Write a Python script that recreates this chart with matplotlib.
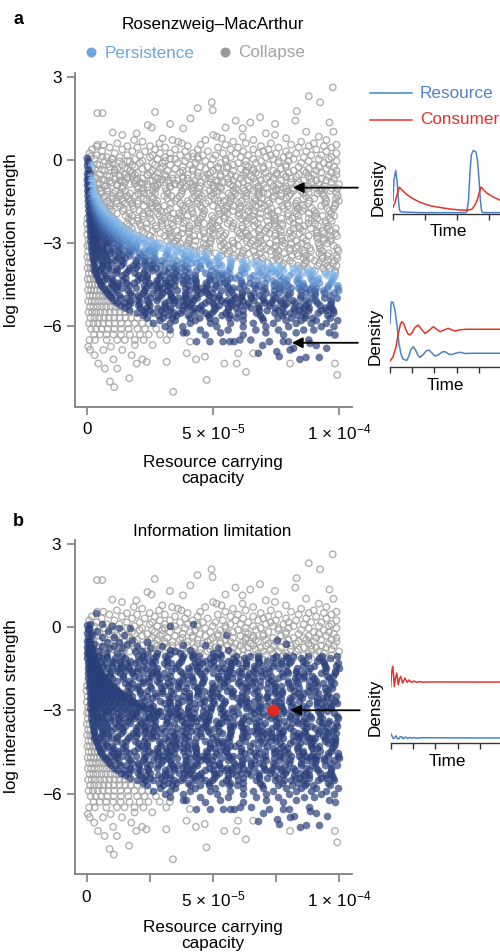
import numpy as np
import matplotlib
matplotlib.use('Agg')
import matplotlib.pyplot as plt
from matplotlib.colors import LinearSegmentedColormap
from matplotlib.lines import Line2D

plt.rcParams['font.family'] = ['Liberation Sans', 'DejaVu Sans']
plt.rcParams['mathtext.fontset'] = 'custom'
plt.rcParams['mathtext.rm'] = 'Liberation Sans'
plt.rcParams['mathtext.it'] = 'Liberation Sans:italic'
plt.rcParams['font.size'] = 12.3

# ---- scatter data: (log interaction strength, [carrying capacity in 1e-6 units]) ----
# collapse in both models
top_rows = [
    (2.62, [97.5]), (2.3, [88]), (2.08, [49.5, 92.5]), (1.87, [43.9]), (1.8, [49.9]),
    (1.76, [83.2]), (1.73, [27]), (1.69, [4.1, 6.2]), (1.54, [68.7]), (1.5, [41.1]),
    (1.42, [82.7, 59]), (1.35, [64.8, 96.2]), (1.3, [74.6, 33]), (1.26, [24.1]),
    (1.17, [25.7, 55]), (1.14, [38.2, 61.8]), (1.02, [97.8, 87]), (0.99, [10.2]),
    (0.96, [19.7, 71]), (0.9, [50.1, 74.6, 14]), (0.84, [51.5, 61.8, 92]),
    (0.78, [53.5, 30, 79]), (0.72, [18.7, 33.9, 47, 66, 95]), (0.66, [36.2, 22, 58, 85]),
    (0.6, [28.7, 37.6, 12, 63, 73, 90]), (0.55, [4.2, 6.6, 45, 55, 81, 99]),
    (0.5, [16, 25, 40, 69, 88, 94]), (0.45, [9, 20, 31, 52, 60, 76, 84, 97]),
    (0.38, [2, 14, 27, 35, 44, 57, 66, 72, 91]),
    (0.31, [6, 18, 23, 39, 48, 62, 70, 79, 87, 95]),
    (0.24, [1, 11, 29, 33, 42, 54, 59, 68, 75, 83, 99]),
    (0.17, [4, 16, 21, 26, 37, 46, 51, 64, 73, 80, 89, 93]),
    (0.1, [8, 13, 25, 31, 40, 44, 57, 61, 71, 78, 86, 97]),
    (0.03, [3, 10, 19, 28, 35, 44, 50, 55, 66, 74, 82, 92, 96]),
    (-0.04, [7, 16, 22, 31, 39, 47, 55, 63, 69, 76, 80, 88, 99]),
    (-0.11, [1, 10, 21, 26, 30, 36, 43, 53, 60, 67, 76, 85, 94]),
    (-0.18, [5, 14, 18, 27, 33, 41, 49, 58, 63, 72, 79, 90, 96]),
    (-0.25, [9, 19, 24, 30, 38, 45, 52, 56, 64, 70, 79, 84, 92, 98]),
    (-0.32, [3, 12, 16, 22, 29, 35, 42, 47, 52, 61, 66, 70, 77, 88, 95]),
    (-0.39, [7, 11, 17, 26, 32, 38, 42, 50, 58, 63, 66, 74, 82, 86, 91, 99]),
    (-0.46, [2, 11, 20, 25, 28, 37, 44, 49, 55, 63, 67, 71, 80, 87, 93, 97]),
    (-0.53, [5, 15, 19, 24, 31, 34, 40, 48, 53, 57, 62, 68, 75, 78, 84, 90, 99]),
    (-0.6, [9, 13, 18, 27, 31, 38, 44, 46, 53, 59, 65, 72, 79, 83, 88, 96]),
    (-0.67, [4, 16, 22, 28, 34, 40, 49, 56, 61, 66, 71, 74, 81, 89, 93, 98]),
    (-0.74, [7, 13, 19, 26, 32, 36, 43, 51, 58, 64, 69, 77, 86, 91, 95]),
    (-0.81, [10, 15, 21, 29, 38, 45, 49, 54, 62, 67, 73, 81, 84, 89, 97]),
    (-0.88, [4, 12, 17, 24, 28, 35, 42, 48, 57, 60, 70, 76, 83, 92, 100]),
    (-0.95, [7, 14, 20, 27, 33, 39, 45, 52, 58, 64, 68, 74, 79, 88, 94]),
    (-1.02, [62, 71, 78, 86, 91, 97]), (-1.1, [66, 75, 82, 93]), (-1.18, [70, 88, 99]),
]

# collapse in Rosenzweig-MacArthur, persistence with information limitation
switch_rows = [
    (0.49, [3.8]), (0.12, [1.5, 6, 42]), (0.05, [10, 33]), (-0.05, [0.8, 13, 17]),
    (-0.15, [4, 8.5]), (-0.29, [2, 15, 55.4]), (-0.35, [6, 11]), (-0.47, [1, 18, 75.3]),
    (-0.55, [8, 13, 24]), (-0.62, [3, 16, 79]), (-0.66, [38, 47]), (-0.7, [6, 11, 20, 30]),
    (-0.76, [2.5, 9, 14, 25, 52]), (-0.82, [33, 41, 56]), (-0.86, [5, 19, 22, 35]),
    (-0.92, [7.5, 12, 28, 37, 50]), (-0.98, [3, 24, 33, 42, 53]),
    (-1.03, [2.6, 4.8, 8.1, 14.1, 20.2, 22.4, 27.3, 31.2, 38.3, 41.6, 44.4, 50.4, 53.2,
             59.2, 64.7, 68.0, 75.2, 79.0, 81.8, 87.8, 93.3, 99.4]),
    (-1.12, [3.1, 5.6, 8.0, 11.3, 15.2, 21.8, 26.2, 31.7, 37.7, 42.1, 48.7, 51.5, 58.1,
             62.5, 68.0, 74.0, 79.5, 85.0, 92.2, 96.6]),
    (-1.21, [3.4, 5.6, 10.5, 13.3, 17.1, 20.4, 22.6, 24.8, 27.0, 32.0, 37.5, 44.1, 46.8,
             50.1, 56.2, 58.9, 63.3, 68.3, 71.6, 77.1, 80.9, 85.9, 91.4, 93.6]),
    (-1.3, [3.8, 7.1, 10.0, 13.1, 16.0, 19.2, 25.8, 30.7, 33.5, 36.8, 42.8, 45.6, 49.4,
            53.8, 57.1, 60.0, 63.2, 68.1, 74.2, 77.0, 80.2, 86.8, 94.0, 99.5]),
    (-1.39, [4.4, 6.6, 10.2, 13.7, 16.5, 22.5, 26.4, 31.9, 35.7, 41.8, 44.5, 50.6, 57.2,
             63.2, 66.5, 69.3, 73.7, 79.2, 85.8, 90.2, 94.6, 98.8]),
    (-1.48, [4.8, 8.0, 11.9, 14.1, 16.9, 20.2, 23.5, 27.9, 35.0, 40.0, 43.8, 48.2, 52.1,
             54.3, 57.0, 61.4, 66.9, 71.9, 76.3, 83.4, 88.4, 95.0, 99.9]),
    (-1.57, [5.3, 9.1, 12.0, 15.2, 17.9, 20.1, 25.1, 27.3, 33.3, 37.0, 40.5, 43.8, 47.1,
             53.1, 56.5, 60.3, 65.8, 69.0, 72.4, 79.5, 82.8, 87.8, 94.4, 98.6]),
    (-1.66, [6.0, 9.3, 13.1, 18.1, 22.5, 25.8, 28.0, 30.7, 37.9, 45.0, 50.0, 55.5, 58.2,
             61.0, 64.3, 67.0, 70.3, 77.5, 79.7, 83.0, 85.7, 92.9, 98.4]),
    (-1.75, [6.7, 9.1, 14.6, 18.6, 25.4, 28.3, 32.9, 38.8, 41.4, 45.7, 52.2, 55.6, 60.6,
             63.4, 69.4, 73.1, 78.0, 83.6, 86.1, 89.2, 95.4, 97.8]),
    (-1.84, [7.4, 10.0, 14.3, 20.8, 24.2, 29.2, 32.0, 38.0, 41.7, 46.6, 52.2, 54.7, 57.8,
             64.0, 66.4, 71.9, 75.9, 82.7, 85.6, 90.2, 96.1]),
    (-1.93, [8.2, 11.9, 16.8, 22.4, 24.9, 28.0, 34.2, 36.6, 42.1, 46.1, 52.9, 55.8, 60.4,
             66.3, 68.9, 73.2, 79.7, 83.1, 88.1, 90.9, 96.9]),
    (-2.02, [9.4, 15.3, 17.9, 22.2, 28.7, 32.1, 37.1, 39.9, 45.9, 49.6, 54.5, 60.1, 62.6,
             65.7, 71.9, 74.3, 79.8, 83.8, 90.6, 93.5, 98.1]),
    (-2.11, [10.5, 16.5, 20.2, 25.1, 30.7, 33.2, 36.3, 42.5, 44.9, 50.4, 54.4, 61.2, 64.1,
             68.7, 74.6, 77.2, 81.5, 88.0, 91.4, 96.4]),
    (-2.2, [11.5, 17.7, 20.1, 25.6, 29.6, 36.4, 39.3, 43.9, 49.8, 52.4, 56.7, 63.2, 66.6,
            71.6, 74.4, 80.4, 84.1, 89.0, 94.6, 97.1]),
    (-2.29, [12.6, 16.0, 21.0, 23.8, 29.8, 33.5, 38.4, 44.0, 46.5, 49.6, 55.8, 58.2, 63.7,
             67.7, 74.5, 77.4, 82.0, 87.9, 90.5, 94.8]),
    (-2.38, [13.8, 16.7, 21.3, 27.2, 29.8, 34.1, 40.6, 44.0, 49.0, 51.8, 57.8, 61.5, 66.4,
             72.0, 74.5, 77.6, 83.8, 86.2, 91.7, 95.7]),
    (-2.47, [15.0, 17.8, 23.8, 27.5, 32.4, 38.0, 40.5, 43.6, 49.8, 52.2, 57.7, 61.7, 68.5,
             71.4, 76.0, 81.9, 84.5, 88.8, 95.3, 98.7]),
    (-2.56, [16.6, 22.1, 26.1, 32.9, 35.8, 40.4, 46.3, 48.9, 53.2, 59.7, 63.1, 68.1, 70.9,
             76.9, 80.6, 85.5, 91.1, 93.6, 96.7]),
    (-2.65, [18.4, 22.7, 29.2, 32.6, 37.6, 40.4, 46.4, 50.1, 55.0, 60.6, 63.1, 66.2, 72.4,
             74.8, 80.3, 84.3, 91.1, 94.0, 98.6]),
    (-2.74, [20.2, 25.1, 30.7, 33.2, 36.3, 42.5, 44.9, 50.4, 54.4, 61.2, 64.1, 68.7, 74.6,
             77.2, 81.5, 88.0, 91.4, 96.4, 99.2]),
    (-2.83, [22.4, 26.4, 33.2, 36.1, 40.7, 46.6, 49.2, 53.5, 60.0, 63.4, 68.4, 71.2, 77.2,
             80.9, 85.8, 91.4, 93.9, 97.0]),
    (-2.92, [25.4, 31.9, 35.3, 40.3, 43.1, 49.1, 52.8, 57.7, 63.3, 65.8, 68.9, 75.1, 77.5,
             83.0, 87.0, 93.8, 96.7]),
    (-3.01, [28.9, 34.5, 37.0, 40.1, 46.3, 48.7, 54.2, 58.2, 65.0, 67.9, 72.5, 78.4, 81.0,
             85.3, 91.8, 95.2]),
    (-3.1, [32.9, 36.0, 39.7, 42.6, 47.2, 53.1, 55.7, 60.0, 66.5, 69.9, 74.9, 77.7, 83.7,
            87.4, 92.3, 97.9]),
    (-3.19, [37.4, 40.8, 45.8, 48.6, 54.6, 58.3, 63.2, 68.8, 71.3, 74.4, 80.6, 83.0, 88.5,
             92.5, 99.3]),
    (-3.28, [42.4, 44.9, 48.0, 54.2, 56.6, 62.1, 66.1, 72.9, 75.8, 80.4, 86.3, 88.9, 93.2,
             99.7]),
    (-3.37, [48.2, 51.1, 55.7, 61.6, 64.2, 68.5, 75.0, 78.4, 83.4, 86.2, 92.2, 95.9]),
    (-3.46, [53.3, 58.3, 61.1, 67.1, 70.8, 75.7, 81.3, 83.8, 86.9, 93.1, 95.5, 99.0]),
    (-3.55, [57.9, 61.0, 67.2, 69.6, 75.1, 79.1, 85.9, 88.8, 93.4, 99.3]),
    (-3.64, [63.1, 67.7, 73.6, 76.2, 80.5, 87.0, 90.4, 95.4, 98.2]),
    (-3.73, [69.1, 71.9, 77.9, 81.6, 86.5, 92.1, 94.6, 97.7]),
    (-3.82, [77.4, 83.6, 86.0, 91.5, 95.5, 99.0]),
    (-3.91, [84.4, 87.5, 93.7, 96.1]),
    (-4.0, [90.4, 94.4, 98.5]),
    (-4.08, [98.4]),
]

# persistence in both models
persist_rows = [
    (0.06, [0.1]), (-0.06, [0.4]), (-0.2, [0.2, 1.9]), (-0.35, [0.5]), (-0.5, [0.2, 1.2]),
    (-0.62, [0.5, 1.5]), (-0.72, [0.1, 1.0, 1.8]), (-0.82, [0.6, 1.6, 2.1]),
    (-0.92, [0.2, 1.1, 2.2]), (-1.02, [0.7, 1.6, 2.2]), (-1.12, [0.3, 1.3, 2.4]),
    (-1.21, [0.9, 2.0, 2.8]), (-1.3, [0.4, 1.5, 2.4, 3.2]), (-1.39, [1.0, 2.2, 3.0, 3.8]),
    (-1.48, [0.5, 1.6, 2.8, 4.2]), (-1.57, [1.1, 2.3, 3.5, 4.7]),
    (-1.66, [0.6, 1.8, 3.0, 4.2, 5.5]), (-1.75, [1.2, 2.5, 3.8, 5.0, 6.1]),
    (-1.84, [0.7, 1.9, 3.2, 4.5, 5.8, 6.8]), (-1.93, [1.3, 2.6, 4.0, 5.3, 6.6, 7.7]),
    (-2.02, [0.9, 2.0, 3.4, 4.8, 6.2, 7.5, 8.8]),
    (-2.11, [1.5, 2.8, 4.3, 5.7, 7.1, 8.6, 9.9]),
    (-2.2, [1.0, 2.3, 3.7, 5.2, 6.7, 8.2, 9.7, 10.9]),
    (-2.29, [1.6, 3.0, 4.6, 6.1, 7.7, 9.3, 10.6, 12.0]),
    (-2.38, [1.2, 2.5, 4.0, 5.6, 7.2, 8.9, 10.5, 12.0, 13.2]),
    (-2.47, [1.7, 3.2, 4.8, 6.5, 8.3, 10.1, 12.0, 13.5, 14.4]),
    (-2.56, [1.3, 2.7, 4.2, 6.0, 7.8, 9.7, 11.6, 13.6, 15.9]),
    (-2.65, [1.8, 3.4, 5.2, 7.1, 9.1, 11.2, 13.4, 15.6, 17.8]),
    (-2.74, [1.4, 2.9, 4.6, 6.5, 8.6, 10.8, 13.1, 15.5, 17.6, 19.7]),
    (-2.83, [2.0, 3.6, 5.5, 7.6, 9.9, 12.3, 14.8, 17.5, 20.0, 21.9]),
    (-2.92, [1.5, 3.1, 4.9, 7.0, 9.3, 11.8, 14.5, 17.3, 20.3, 23.0, 24.8]),
    (-3.01, [2.2, 4.0, 7.3, 8.5, 10.6, 13.6, 16.3, 19.6, 22.3, 26.2, 28.3]),
    (-3.1, [1.8, 3.9, 6.3, 8.1, 12.6, 15.8, 18.2, 19.6, 24.2, 26.3, 28.0, 32.2]),
    (-3.19, [2.4, 4.3, 6.2, 10.5, 13.2, 17.9, 19.8, 24.9, 27.6, 29.9, 33.8, 36.6]),
    (-3.28, [1.9, 4.0, 6.6, 9.4, 12.3, 15.2, 17.3, 18.9, 22.7, 24.8, 26.8, 32.0, 35.9,
             39.3, 41.4]),
    (-3.37, [2.6, 4.4, 7.0, 9.3, 12.9, 16.5, 21.0, 23.7, 26.9, 31.8, 37.7, 43.5, 47.3]),
    (-3.46, [2.2, 4.5, 7.3, 11.1, 14.0, 17.2, 21.4, 26.1, 31.3, 34.6, 38.9, 41.3, 46.9,
             52.5]),
    (-3.55, [2.9, 5.2, 8.0, 12.3, 15.2, 20.3, 23.2, 27.0, 32.6, 38.7, 41.1, 44.0, 46.9,
             52.1, 56.8]),
    (-3.64, [2.5, 5.8, 8.6, 11.4, 13.9, 19.5, 22.8, 24.8, 27.3, 29.7, 35.8, 39.6, 45.6,
             48.1, 51.0, 57.0, 62.1]),
    (-3.73, [3.1, 6.4, 9.8, 14.5, 19.6, 23.0, 26.3, 31.0, 33.9, 37.7, 41.5, 43.5, 48.2,
             52.5, 57.2, 61.9, 65.7, 68.0]),
    (-3.82, [2.8, 6.1, 8.1, 13.7, 18.4, 20.4, 23.3, 25.8, 29.1, 35.2, 39.0, 45.0, 48.8,
             53.5, 56.9, 62.9, 67.2, 70.1, 73.0, 76.4]),
    (-3.91, [3.4, 5.9, 8.5, 11.9, 17.0, 19.5, 25.5, 27.5, 32.7, 34.7, 37.6, 40.0, 45.2,
             51.2, 56.8, 61.5, 63.5, 69.6, 73.4, 76.7, 81.9, 83.5]),
    (-4.0, [3.0, 5.5, 9.5, 12, 16.5, 23, 26, 31, 35.5, 39, 43.5, 49.5, 56, 61.5, 68, 71.5,
            74.5, 78, 84, 88, 89.4]),
    (-4.09, [3.6, 6.6, 11.6, 15.6, 19.1, 22.6, 28.6, 32.1, 35.1, 40.6, 47.1, 51.6, 53.6,
             56.6, 62.6, 68.6, 72.6, 75.1, 81.6, 87.1, 89.6, 94.6, 97.3]),
    (-4.18, [4.0, 7.5, 14, 20.5, 24, 29.5, 34, 36.5, 38.5, 43, 49, 52, 54, 60.5, 66, 70,
             76.5, 80.5, 84.5, 89, 95.5, 98.5]),
    (-4.27, [4.4, 7.9, 9.9, 15.4, 21.4, 23.9, 28.9, 32.9, 34.9, 39.9, 42.9, 48.9, 53.9,
             56.9, 58.9, 64.9, 71.4, 77.9, 83.9, 88.9, 91.9, 97.9]),
    (-4.36, [4.8, 6.8, 10.3, 14.3, 20.3, 23.3, 27.8, 31.3, 35.3, 38.3, 40.8, 43.3, 48.8,
             50.8, 55.8, 61.3, 67.8, 73.8, 76.8, 79.3, 83.3, 89.3, 91.3, 97.3]),
    (-4.45, [5.3, 9.8, 12.3, 15.8, 18.8, 24.8, 27.8, 31.3, 33.3, 38.3, 43.3, 47.3, 52.8,
             54.8, 61.3, 64.8, 70.8, 74.8, 78.8, 83.8, 85.8, 92.3, 96.8]),
    (-4.54, [5.8, 10.3, 12.3, 16.8, 22.8, 25.8, 28.8, 32.3, 34.8, 40.3, 43.3, 47.8, 51.3,
             55.8, 62.3, 66.3, 68.3, 74.3, 76.8, 79.8, 85.8, 89.8, 95.8, 99.6]),
    (-4.63, [6.6, 9.1, 11.6, 14.1, 19.6, 23.6, 28.1, 30.1, 33.1, 39.1, 43.1, 45.6, 47.6,
             50.6, 56.1, 58.1, 60.6, 67.1, 70.6, 76.6, 81.1, 84.1, 86.6, 89.1, 91.1, 95.6,
             99.5]),
    (-4.72, [7.4, 11.9, 16.4, 22.9, 27.9, 31.9, 35.9, 40.9, 43.9, 46.9, 53.4, 57.4, 63.4,
             69.9, 74.4, 78.4, 84.9, 88.4, 90.4, 93.9, 99.9]),
    (-4.81, [8.2, 10.7, 17.2, 22.2, 26.2, 30.2, 33.2, 39.2, 45.2, 47.7, 49.7, 56.2, 61.7,
             66.2, 71.2, 76.2, 80.7, 87.2, 90.7, 94.2, 98.2]),
    (-4.9, [9.0, 13, 18, 20.5, 23.5, 29.5, 33.5, 39, 43.5, 48.5, 52.5, 58.5, 61.5, 65, 68.5,
            74, 80, 85, 90.5, 96.5]),
    (-4.99, [9.8, 13.3, 15.8, 20.8, 25.3, 28.3, 33.8, 36.3, 39.3, 41.3, 43.8, 50.3, 52.3,
             58.8, 61.3, 65.3, 69.8, 74.8, 78.8, 84.8, 89.3, 94.3, 99.3]),
    (-5.08, [10.8, 17.3, 20.3, 23.8, 27.8, 32.8, 34.8, 38.3, 42.3, 48.3, 53.3, 55.8, 57.8,
             61.8, 66.3, 70.3, 73.8, 76.8, 81.8, 86.8, 90.8, 96.8]),
    (-5.17, [12, 15, 17.5, 21, 24.5, 31, 34.5, 39.5, 41.5, 47, 50, 55, 57, 60, 64, 70.5, 73,
             77, 79.5, 82.5, 88, 91.5, 97]),
    (-5.26, [13.5, 16.5, 20.5, 25, 31, 36.5, 38.5, 40.5, 45.5, 50.5, 52.5, 57.5, 61, 63.5,
             68, 72.5, 78.5, 84.5, 87, 92.5, 96.5]),
    (-5.35, [15.2, 21.2, 23.7, 28.2, 31.2, 33.2, 39.7, 42.7, 44.7, 51.2, 56.2, 59.2, 65.2,
             68.2, 74.7, 77.7, 82.2, 86.2, 88.2, 94.7, 97.2]),
    (-5.44, [17, 22.5, 25, 29.5, 33, 38, 42, 45.5, 50.5, 56, 62, 68.5, 71.5, 76, 82.5, 84.5,
             88, 93, 95, 97.8]),
    (-5.53, [20, 23.1, 26.2, 30.5, 34.8, 37.3, 42.8, 47.1, 49.6, 55.1, 60, 67.3, 74.6, 78.3,
             80.8, 85.7, 91.8, 97.9]),
    (-5.62, [22.5, 28.5, 32.4, 35.6, 40.2, 48.3, 53.6, 56.8, 62.1, 68.8, 77.6, 83.6, 86.8,
             95.6]),
    (-5.71, [24, 30.2, 34, 41, 44.8, 48.6, 56.4, 59.4, 69.6, 75.8, 81.2, 86.6, 89.6, 96.6]),
    (-5.8, [29, 35, 43, 51, 62, 70, 79, 85, 91, 99.5]),
    (-5.9, [26.3, 33, 41, 49, 57, 66, 74, 83, 89, 95]),
    (-6.02, [31, 38, 51.5, 62, 71, 80, 93, 98]),
    (-6.14, [33, 45, 56, 67, 76, 86, 90]),
    (-6.24, [38.2, 39.5, 53, 71, 83, 96.2]),
    (-6.32, [47, 62, 78, 98.4]), (-6.5, [60.7, 65, 88]),
    (-6.56, [43.5, 48.8, 54, 56.7, 58.4, 72.4, 77.9, 80]),
    (-6.62, [88.5]), (-6.7, [69.7, 91]), (-6.8, [82, 95.1]), (-6.86, [80.6]),
    (-6.92, [75.3]), (-6.98, [68]), (-7.1, [76.3]), (-7.13, [86.9, 92.2]), (-7.2, [84.5]),
]

# collapse in both models, low carrying capacity / weak interaction corner
left_rows = [
    (-2.1, [0.2]), (-2.3, [0.0]), (-2.5, [0.4]), (-2.7, [0.1]), (-2.9, [0.6]),
    (-3.1, [0.2, 1.0]), (-3.3, [0.5]), (-3.5, [0.1, 1.2]), (-3.6, [2.8]), (-3.7, [0.6, 1.6]),
    (-3.9, [0.2, 1.4, 2.2]), (-4.0, [3.6, 4.8]), (-4.1, [0.7, 1.9]),
    (-4.3, [0.3, 1.3, 2.6, 3.5]), (-4.4, [5.8]), (-4.5, [0.8, 2.0, 3.2, 4.4]),
    (-4.6, [6.5]), (-4.7, [0.4, 1.6, 2.8, 4.0, 5.5]), (-4.8, [7.4]),
    (-4.9, [1.0, 2.3, 3.7, 5.2, 6.8, 8.3]),
    (-5.1, [0.5, 1.8, 3.2, 4.8, 6.4, 8.0, 9.6]),
    (-5.3, [1.2, 2.6, 4.2, 5.9, 7.6, 9.4, 11.2, 12.8]),
    (-5.5, [0.6, 2.0, 3.6, 5.3, 7.1, 9.0, 11.0, 13.0, 15.0, 16.8]),
    (-5.7, [1.4, 3.0, 4.8, 6.7, 8.7, 10.8, 13.0, 15.3, 17.5, 20]),
    (-5.9, [0.8, 2.5, 4.4, 6.4, 8.6, 11.0, 13.5, 16.2, 19, 22, 24.5]),
    (-6.1, [1.6, 3.6, 5.8, 8.2, 10.8, 13.6, 16.5, 20, 23, 27.5]),
    (-6.3, [2.8, 5.2, 7.8, 10.5, 13.5, 17, 21, 24.5, 29, 33]),
    (-6.5, [1.0, 3.2, 7.8, 12, 15, 19, 22.5, 31.6]), (-6.56, [40.9]),
    (-6.68, [19, 26]), (-6.74, [0.5, 9.5]), (-6.86, [1.2, 6.5, 14]),
    (-6.98, [39.6, 60, 66]), (-7.05, [17.7, 3]), (-7.1, [46.8]),
    (-7.2, [10.5, 43.3, 22]), (-7.29, [23.7, 31.6]),
    (-7.35, [4.5, 19.7, 54.5, 59.4, 80.6, 98.4]), (-7.53, [7.1, 12]), (-7.65, [63.1]),
    (-7.76, [99.3]), (-7.88, [16.8]), (-7.94, [47.5]), (-8.0, [9.1]), (-8.2, [10.8]),
    (-8.37, [34.2]),
]

# persistence boundary of the Rosenzweig-MacArthur model (used for shading)
bound_k = [0, 1, 2, 3, 5, 7, 10, 13, 16, 20, 25, 30, 35, 40, 50, 60, 70, 80, 90, 100]
bound_y = [-0.6, -0.8, -1.0, -1.25, -1.6, -1.85, -2.1, -2.35, -2.55, -2.75, -2.9,
           -3.05, -3.15, -3.25, -3.4, -3.6, -3.75, -3.85, -4.0, -4.1]

highlight_k = 74e-6
highlight_y = -3.0

# ---- inset time series ----
cyc_t_res = [0, 0.03, 0.085, 0.125, 0.17, 0.2, 0.25, 0.84, 2.28, 2.31, 2.36, 2.41, 2.45,
             2.51, 2.59, 2.64, 2.69, 2.73, 2.77, 2.81, 3.5]
cyc_res = [0.20, 0.49, 0.63, 0.49, 0.20, 0.06, 0.03, 0.02, 0.02, 0.04, 0.2, 0.64, 0.86,
           0.92, 0.90, 0.78, 0.49, 0.2, 0.04, 0.02, 0.02]
cyc_t_con = [0, 0.06, 0.125, 0.2, 0.28, 0.41, 0.59, 0.84, 1.16, 1.47, 1.78, 2.09, 2.34,
             2.47, 2.56, 2.63, 2.69, 2.75, 2.81, 2.94, 3.12, 3.34, 3.5]
cyc_con = [0.10, 0.16, 0.28, 0.39, 0.35, 0.29, 0.23, 0.17, 0.12, 0.094, 0.072, 0.058,
           0.055, 0.07, 0.13, 0.2, 0.30, 0.39, 0.36, 0.30, 0.25, 0.2, 0.17]

damp_t_res = [0, 0.045, 0.076, 0.135, 0.225, 0.315, 0.40, 0.49, 0.58, 0.75, 0.85, 0.94,
              1.05, 1.15, 1.26, 1.35, 1.48, 1.62, 1.75, 1.89, 2.02, 2.16, 2.34, 2.47,
              2.63, 2.77, 2.94, 3.15, 3.37, 3.69, 5.17]
damp_res = [0.624, 0.886, 0.933, 0.92, 0.81, 0.6, 0.34, 0.19, 0.114, 0.093, 0.157, 0.25,
            0.29, 0.243, 0.164, 0.139, 0.171, 0.229, 0.243, 0.2, 0.157, 0.171, 0.214,
            0.219, 0.186, 0.176, 0.196, 0.21, 0.193, 0.196, 0.196]
damp_t_con = [0, 0.135, 0.27, 0.38, 0.47, 0.53, 0.61, 0.72, 0.81, 0.90, 1.01, 1.12, 1.27,
              1.39, 1.57, 1.73, 1.95, 2.11, 2.25, 2.43, 2.62, 2.76, 2.92, 3.15, 3.42, 5.17]
damp_con = [0.086, 0.143, 0.286, 0.486, 0.614, 0.647, 0.621, 0.529, 0.471, 0.457, 0.5,
            0.564, 0.6, 0.55, 0.481, 0.514, 0.576, 0.536, 0.504, 0.529, 0.553, 0.531,
            0.514, 0.531, 0.539, 0.539]

info_t_con = [0, 0.045, 0.09, 0.126, 0.16, 0.215, 0.27, 0.305, 0.34, 0.395, 0.45, 0.49,
              0.54, 0.6, 0.64, 0.7, 0.74, 0.81, 0.88, 0.955, 1.045, 1.16, 1.29, 1.45,
              1.63, 5.13]
info_con = [0.707, 0.891, 0.958, 0.854, 0.707, 0.816, 0.875, 0.804, 0.729, 0.804, 0.833,
            0.791, 0.75, 0.791, 0.8125, 0.779, 0.758, 0.788, 0.773, 0.758, 0.776, 0.759,
            0.769, 0.76, 0.764, 0.7625]
info_t_res = [0, 0.06, 0.117, 0.18, 0.24, 0.296, 0.36, 0.417, 0.484, 0.55, 0.62, 0.686,
              0.76, 0.84, 0.93, 1.045, 1.18, 1.36, 5.13]
info_res = [0.125, 0.091, 0.0575, 0.0725, 0.094, 0.06, 0.054, 0.079, 0.084, 0.056, 0.074,
            0.076, 0.059, 0.0725, 0.064, 0.071, 0.064, 0.069, 0.066]


def unpack(rows):
    k, s = [], []
    for y, xs in rows:
        k.extend(xs)
        s.extend([y] * len(xs))
    return np.array(k) * 1e-6, np.array(s)


W, H = 500, 952
fig = plt.figure(figsize=(5, 9.52), dpi=100)


def px_axes(left, top, right, bottom):
    return fig.add_axes([left / W, 1 - bottom / H, (right - left) / W, (bottom - top) / H])


SPINE = '#808080'
BLUE_LINE = '#4d83c4'
RED_LINE = '#e3342a'
NAVY = '#2a3f7a'
ring_kw = dict(s=22, facecolors='none', edgecolors='#a4a4a4', linewidths=1.0, alpha=0.85)
dot_kw = dict(s=30, linewidths=0, alpha=0.7)


def style_main(ax, ticks, labels):
    ax.set_xlim(-4.8e-6, 105e-6)
    ax.set_ylim(-8.9, 3.15)
    for side in ['top', 'right']:
        ax.spines[side].set_visible(False)
    for side in ['left', 'bottom']:
        ax.spines[side].set_color(SPINE)
        ax.spines[side].set_linewidth(1.3)
    ax.set_yticks([-6, -3, 0, 3])
    ax.set_xticks(ticks)
    ax.set_xticklabels(labels)
    ax.tick_params(color=SPINE, labelcolor='black', length=5.5, width=1.2,
                   labelsize=12.3, pad=4)
    ax.tick_params(axis='x', pad=6)


k_top, y_top = unpack(top_rows)
k_sw, y_sw = unpack(switch_rows)
k_pe, y_pe = unpack(persist_rows)
k_lf, y_lf = unpack(left_rows)

xlab = ['0', r'$5\,\times\,10^{-5}$', r'$1\,\times\,10^{-4}$']

# ---------------- panel a ----------------
ax_a = px_axes(74.9, 72.7, 351.6, 406.5)
style_main(ax_a, [0, 5e-5, 1e-4], xlab)
for k, y in [(k_top, y_top), (k_sw, y_sw), (k_lf, y_lf)]:
    ax_a.scatter(k, y, **ring_kw)

depth = np.interp(k_pe * 1e6, bound_k, bound_y) - y_pe
depth = np.where(k_pe < 1.5e-6, 2.0, depth)
shade = np.clip(depth / 1.4, 0, 1)
cmap = LinearSegmentedColormap.from_list('pers', ['#8cc0ee', '#5a8fd0', '#34508f', NAVY])
ax_a.scatter(k_pe, y_pe, c=shade, cmap=cmap, vmin=0, vmax=1, **dot_kw)

arrow_kw = dict(arrowstyle='-|>', color='black', lw=1.3, mutation_scale=16, shrinkA=0, shrinkB=0)
ax_a.annotate('', xy=(81.7e-6, -1.0), xytext=(107.5e-6, -1.0), arrowprops=arrow_kw,
              annotation_clip=False)
ax_a.annotate('', xy=(81.3e-6, -6.6), xytext=(107.5e-6, -6.6), arrowprops=arrow_kw,
              annotation_clip=False)

handles = [Line2D([], [], ls='', marker='o', markersize=6.2, color='#6ea6dc'),
           Line2D([], [], ls='', marker='o', markersize=6.2, color='#9a9a9a')]
fig.legend(handles, ['Persistence', 'Collapse'], ncol=2, loc='center',
           bbox_to_anchor=(195.5 / W, 1 - 53 / H), frameon=False, fontsize=12.3,
           labelcolor=['#6ea6dc', '#a3a3a3'], handlelength=0.6, handletextpad=0.45,
           columnspacing=1.5, borderpad=0, borderaxespad=0)

fig.text(0.026, 1 - 20 / H, 'a', weight='bold', fontsize=13, ha='left', va='center')
fig.text(213 / W, 1 - 25 / H, 'Rosenzweig–MacArthur', ha='center', va='center')
fig.text(11.5 / W, 1 - 240 / H, 'log interaction strength', rotation=90, ha='center', va='center')
fig.text(213 / W, 1 - 470.5 / H, 'Resource carrying\ncapacity', ha='center', va='center',
         linespacing=1.15)

# ---------------- panel b ----------------
ax_b = px_axes(74.5, 539.6, 351.6, 874)
style_main(ax_b, [0, 2.5e-5, 5e-5, 7.5e-5, 1e-4], [xlab[0], '', xlab[1], '', xlab[2]])
for k, y in [(k_top, y_top), (k_lf, y_lf)]:
    ax_b.scatter(k, y, **ring_kw)
for k, y in [(k_sw, y_sw), (k_pe, y_pe)]:
    ax_b.scatter(k, y, color=NAVY, **dot_kw)
ax_b.scatter([highlight_k], [highlight_y], s=75, color='#e02a1e', linewidths=0, zorder=5)
ax_b.annotate('', xy=(80.7e-6, -3.0), xytext=(108.2e-6, -3.0), arrowprops=arrow_kw,
              annotation_clip=False)

fig.text(0.026, 1 - 521 / H, 'b', weight='bold', fontsize=13, ha='left', va='center')
fig.text(212.5 / W, 1 - 531 / H, 'Information limitation', ha='center', va='center')
fig.text(11.5 / W, 1 - 706 / H, 'log interaction strength', rotation=90, ha='center', va='center')
fig.text(213 / W, 1 - 935.5 / H, 'Resource carrying\ncapacity', ha='center', va='center',
         linespacing=1.15)


# ---------------- insets ----------------
def inset(left, top, right, bottom, tmax, nticks):
    ax = px_axes(left, top, right, bottom)
    ax.set_xlim(0, tmax)
    ax.set_ylim(0, 1)
    for side in ['top', 'right', 'left']:
        ax.spines[side].set_visible(False)
    ax.spines['bottom'].set_color('#333333')
    ax.spines['bottom'].set_linewidth(1.0)
    ax.set_xticks(range(nticks))
    ax.set_xticklabels([])
    ax.set_yticks([])
    ax.tick_params(axis='x', length=4, width=1, color='#333333')
    ax.patch.set_alpha(0)
    return ax


ins1 = inset(393, 145, 505, 214, 3.5, 4)
ins1.plot(cyc_t_res, cyc_res, color=BLUE_LINE, lw=1.1)
ins1.plot(cyc_t_con, cyc_con, color=RED_LINE, lw=1.1)

ins2 = inset(390, 297, 505, 367, 5.17, 6)
ins2.plot(damp_t_res, damp_res, color=BLUE_LINE, lw=1.1)
ins2.plot(damp_t_con, damp_con, color=RED_LINE, lw=1.1)

ins3 = inset(390.7, 663, 505, 743.3, 5.13, 6)
ins3.plot(info_t_res, info_res, color=BLUE_LINE, lw=1.1)
ins3.plot(info_t_con, info_con, color=RED_LINE, lw=1.1)

for yc_d, yc_t, xc_d, xc_t in [(187, 232, 378, 448), (336, 385, 375, 445), (707, 762, 375, 447)]:
    fig.text(xc_d / W, 1 - yc_d / H, 'Density', rotation=90, ha='center', va='center')
    fig.text(xc_t / W, 1 - yc_t / H, 'Time', ha='center', va='center')

for yy, col, lab in [(93, BLUE_LINE, 'Resource'), (120, RED_LINE, 'Consumer')]:
    fig.add_artist(Line2D([370 / W, 412 / W], [1 - yy / H] * 2, color=col, lw=1.1))
    fig.text(420 / W, 1 - yy / H, lab, color=col, ha='left', va='center')

fig.savefig('out.png', dpi=100)
